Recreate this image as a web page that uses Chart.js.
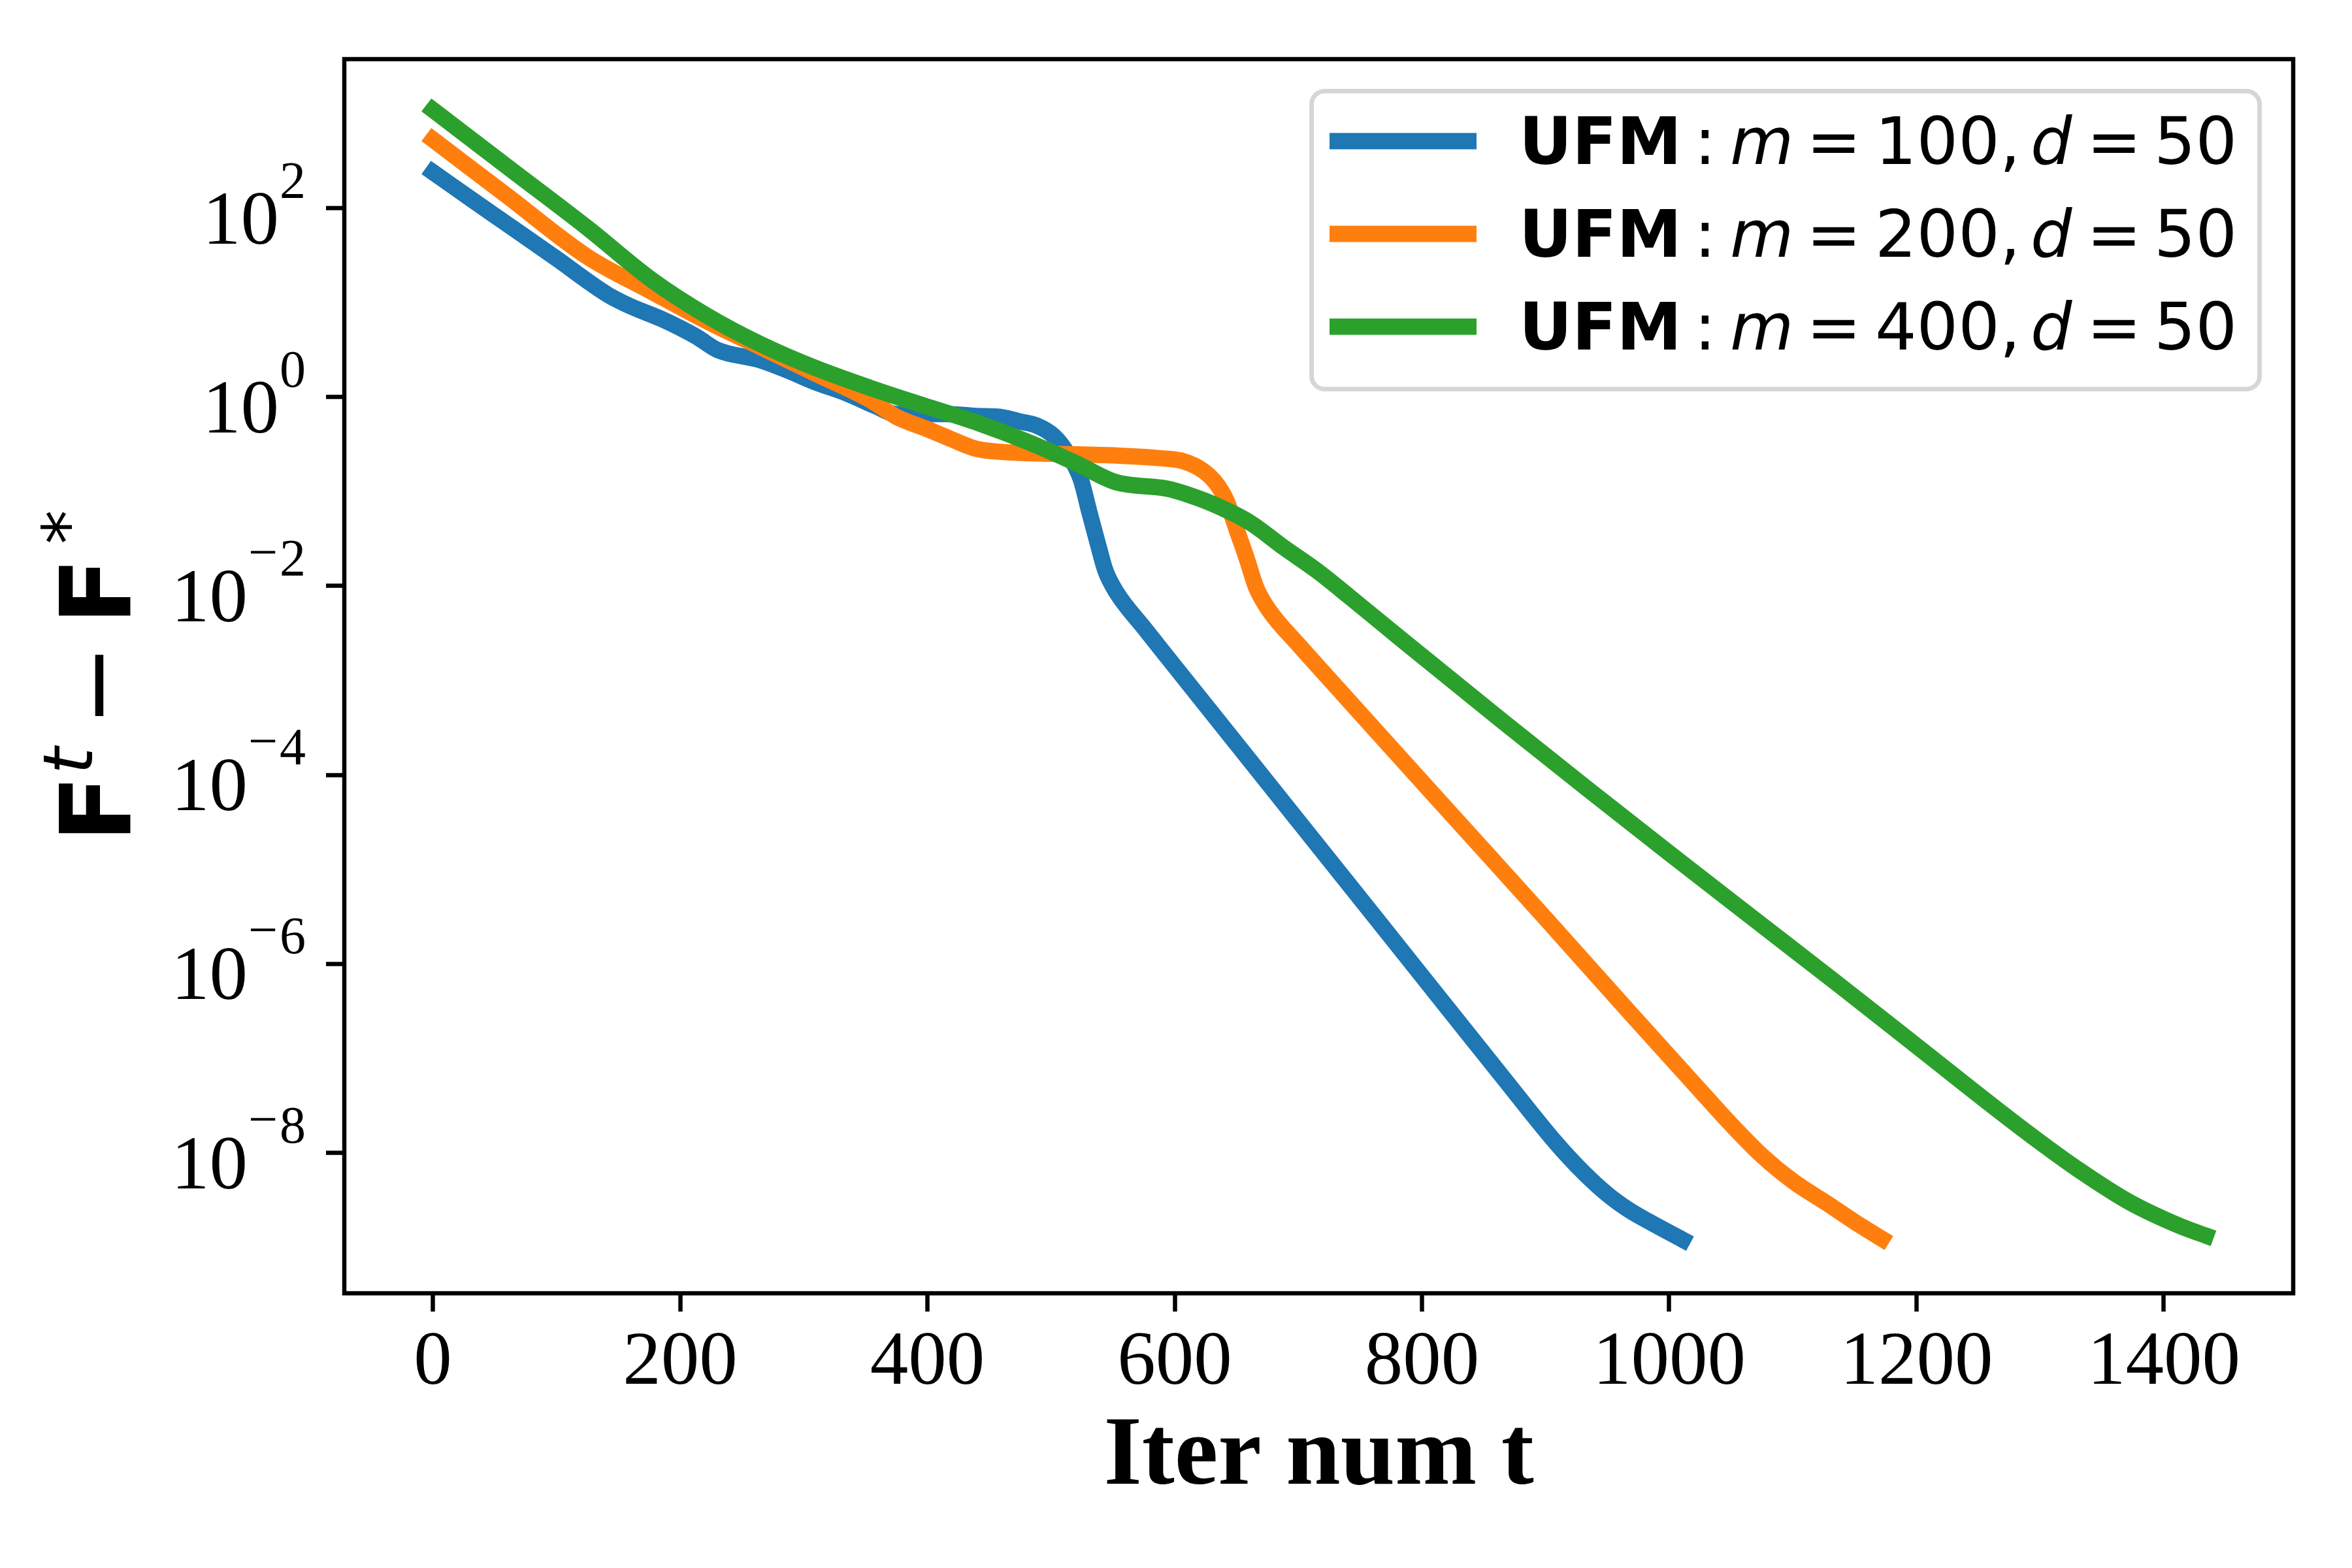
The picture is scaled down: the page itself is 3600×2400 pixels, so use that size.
<!DOCTYPE html>
<html><head><meta charset="utf-8">
<script src="https://cdn.jsdelivr.net/npm/chart.js@4.4.1/dist/chart.umd.min.js"></script>
<style>html,body{margin:0;padding:0;background:#fff;}canvas{display:block;}</style>
</head><body>
<canvas id="c" width="3600" height="2400" style="width:3600px;height:2400px"></canvas>
<script>
// ---- data ----
const seriesM = ['100', '200', '400'];
const seriesD = ['50', '50', '50'];
const seriesColors = ['#1f77b4', '#ff7f0e', '#2ca02c'];

const iterM100 = [0, 30, 68, 100, 142, 160, 186, 213, 230, 265, 287, 309, 335, 357, 375, 397, 416, 440, 459, 475, 488, 502, 513, 524, 531, 538, 544, 553, 575, 600, 650, 700, 766, 833, 866, 908, 930, 950, 968, 984, 1011];
const gapM100 = [240, 127, 57.3, 29.2, 12.0, 9.12, 6.61, 4.37, 3.16, 2.45, 1.91, 1.44, 1.09, 0.813, 0.661, 0.661, 0.661, 0.631, 0.617, 0.550, 0.501, 0.389, 0.257, 0.135, 0.0603, 0.0275, 0.0145, 8.51e-3, 3.63e-3, 1.41e-3, 2.14e-4, 3.24e-5, 2.69e-6, 2.14e-7, 6.17e-8, 1.29e-8, 6.31e-9, 3.63e-9, 2.45e-9, 1.86e-9, 1.20e-9];

const iterM200 = [0, 59, 125, 177, 221, 265, 309, 353, 375, 400, 420, 440, 459, 500, 553, 590, 607, 623, 634, 642, 650, 658, 666, 677, 700, 733, 766, 833, 900, 967, 1025, 1050, 1075, 1100, 1127, 1150, 1172];
const gapM200 = [532, 138, 30.5, 13.0, 6.40, 3.37, 1.78, 0.94, 0.617, 0.457, 0.355, 0.282, 0.263, 0.251, 0.240, 0.224, 0.209, 0.166, 0.120, 0.0794, 0.0398, 0.0200, 9.55e-3, 5.37e-3, 2.40e-3, 7.94e-4, 2.63e-4, 2.82e-5, 3.02e-6, 3.16e-7, 4.57e-8, 2.00e-8, 9.33e-9, 5.01e-9, 2.95e-9, 1.86e-9, 1.23e-9];

const iterM400 = [0, 62, 125, 177, 221, 265, 309, 353, 397, 441, 484, 520, 552, 594, 610, 634, 661, 688, 715, 741, 783, 866, 934, 1001, 1068, 1136, 1203, 1266, 1294, 1330, 1372, 1414, 1434];
const gapM400 = [1096, 263, 61.7, 17.4, 7.35, 3.63, 2.04, 1.26, 0.813, 0.531, 0.324, 0.200, 0.126, 0.107, 0.0933, 0.0708, 0.0468, 0.0257, 0.0145, 7.76e-3, 2.75e-3, 3.63e-4, 7.08e-5, 1.45e-5, 3.02e-6, 6.17e-7, 1.26e-7, 2.82e-8, 1.48e-8, 6.76e-9, 3.02e-9, 1.66e-9, 1.33e-9];

const xTickValues = [0, 200, 400, 600, 800, 1000, 1200, 1400];
const yTickExponents = [2, 0, -2, -4, -6, -8];
const xLimits = [-71.65, 1504.65];
const yLimits = [3.26e-10, 3776];
const xTitle = 'Iter num t';

// ---- chart ----
const SERIF = '"Liberation Serif", "Times New Roman", serif';
const SANS = '"DejaVu Sans", sans-serif';

const iters = [iterM100, iterM200, iterM400];
const gaps = [gapM100, gapM200, gapM400];
const datasets = iters.map((xs, i) => ({
  label: 'UFM: m = ' + seriesM[i] + ', d = ' + seriesD[i],
  data: xs.map((x, j) => ({ x: x, y: gaps[i][j] })),
  borderColor: seriesColors[i],
  backgroundColor: seriesColors[i],
  borderWidth: 25,
  borderCapStyle: 'square',
  borderJoinStyle: 'round',
  pointRadius: 0,
  fill: false,
  cubicInterpolationMode: 'monotone',
  order: 3 - i
}));

const frameTicksPlugin = {
  id: 'frameTicks',
  afterDraw(chart) {
    const ctx = chart.ctx, a = chart.chartArea, ys = chart.scales.y;
    ctx.save();
    // spines
    ctx.strokeStyle = '#000';
    ctx.lineWidth = 6.5;
    ctx.lineJoin = 'miter';
    ctx.strokeRect(a.left, a.top, a.right - a.left, a.bottom - a.top);
    // y tick labels: 10^e
    ctx.fillStyle = '#000';
    ctx.textAlign = 'left';
    ctx.textBaseline = 'alphabetic';
    const R = a.left - 59;
    yTickExponents.forEach(e => {
      const py = ys.getPixelForValue(Math.pow(10, e));
      const digits = String(Math.abs(e));
      ctx.font = '80px ' + SERIF;
      const wd = ctx.measureText(digits).width;
      let x = R - wd;
      ctx.fillText(digits, x, py - 16);
      if (e < 0) {
        const wm = ctx.measureText('\u2212').width;
        x -= wm + 3;
        ctx.fillText('\u2212', x, py - 25);
      }
      ctx.font = '117px ' + SERIF;
      const wb = ctx.measureText('10').width;
      x -= wb + 1;
      ctx.fillText('10', x, py + 54);
    });
    // y axis title: F^t - F^*
    const cy = (a.top + a.bottom) / 2;
    ctx.translate(a.left - 328, cy + 254);
    ctx.rotate(-Math.PI / 2);
    ctx.font = 'bold 150px ' + SANS; ctx.fillText('F', 0, 0);
    ctx.font = 'oblique 105px ' + SANS; ctx.fillText('t', 104, -58);
    ctx.font = '150px ' + SANS; ctx.fillText('\u2212', 177, 0);
    ctx.font = 'bold 150px ' + SANS; ctx.fillText('F', 333, 0);
    ctx.font = '105px ' + SANS; ctx.fillText('*', 456, -59);
    ctx.restore();
  }
};

const legendPlugin = {
  id: 'mathLegend',
  afterDraw(chart) {
    const ctx = chart.ctx, a = chart.chartArea;
    const bx = a.right - 48 - 1458 + 3.5, by = a.top + 45.5 + 3.5, bw = 1451, bh = 456, r = 20;
    ctx.save();
    ctx.beginPath();
    ctx.moveTo(bx + r, by);
    ctx.arcTo(bx + bw, by, bx + bw, by + bh, r);
    ctx.arcTo(bx + bw, by + bh, bx, by + bh, r);
    ctx.arcTo(bx, by + bh, bx, by, r);
    ctx.arcTo(bx, by, bx + bw, by, r);
    ctx.closePath();
    ctx.fillStyle = 'rgba(255,255,255,0.8)';
    ctx.fill();
    ctx.lineWidth = 7;
    ctx.strokeStyle = '#d6d6d6';
    ctx.stroke();
    const x0 = bx - 3.5;
    ctx.textAlign = 'left';
    ctx.textBaseline = 'alphabetic';
    ctx.fillStyle = '#000';
    chart.data.datasets.forEach((ds, i) => {
      const cyRow = by - 3.5 + 80 + i * 142;
      ctx.strokeStyle = ds.borderColor;
      ctx.lineWidth = 25;
      ctx.lineCap = 'butt';
      ctx.beginPath();
      ctx.moveTo(x0 + 31, cyRow);
      ctx.lineTo(x0 + 256, cyRow);
      ctx.stroke();
      const base = cyRow + 35;
      ctx.font = 'bold 100px ' + SANS; ctx.fillText('UFM', x0 + 321, base);
      ctx.font = '100px ' + SANS; ctx.fillText(':', x0 + 589, base);
      ctx.font = 'oblique 100px ' + SANS; ctx.fillText('m', x0 + 644, base);
      ctx.font = '100px ' + SANS; ctx.fillText('=', x0 + 761, base);
      ctx.fillText(seriesM[i] + ',', x0 + 866, base);
      ctx.font = 'oblique 100px ' + SANS; ctx.fillText('d', x0 + 1104, base);
      ctx.font = '100px ' + SANS; ctx.fillText('=', x0 + 1190, base);
      ctx.fillText(seriesD[i], x0 + 1293, base);
    });
    ctx.restore();
  }
};

new Chart(document.getElementById('c').getContext('2d'), {
  type: 'line',
  data: { datasets: datasets },
  options: {
    responsive: false,
    animation: false,
    devicePixelRatio: 1,
    layout: { padding: { left: 0, right: 90, top: 90.5, bottom: 0 } },
    plugins: { legend: { display: false }, tooltip: { enabled: false }, title: { display: false } },
    scales: {
      x: {
        type: 'linear', position: 'bottom',
        min: xLimits[0], max: xLimits[1],
        afterBuildTicks: s => { s.ticks = xTickValues.map(v => ({ value: v })); },
        afterFit: s => { s.height = 420.5; },
        ticks: {
          autoSkip: false, maxRotation: 0, minRotation: 0, padding: 10, color: '#000',
          font: { family: SERIF, size: 117 },
          callback: v => String(v)
        },
        grid: { display: true, drawOnChartArea: false, drawTicks: true, tickLength: 28, tickWidth: 6.5, tickColor: '#000' },
        border: { display: false },
        title: { display: true, text: xTitle, color: '#000', font: { family: SERIF, size: 150, weight: 'bold' }, padding: { top: 0, bottom: 78 } }
      },
      y: {
        type: 'logarithmic', position: 'left',
        min: yLimits[0], max: yLimits[1],
        afterBuildTicks: s => { s.ticks = yTickExponents.map(e => ({ value: Math.pow(10, e) })); },
        afterFit: s => { s.width = 527; },
        ticks: { display: false },
        grid: { display: true, drawOnChartArea: false, drawTicks: true, tickLength: 28, tickWidth: 6.5, tickColor: '#000' },
        border: { display: false }
      }
    }
  },
  plugins: [frameTicksPlugin, legendPlugin]
});
</script>
</body></html>
